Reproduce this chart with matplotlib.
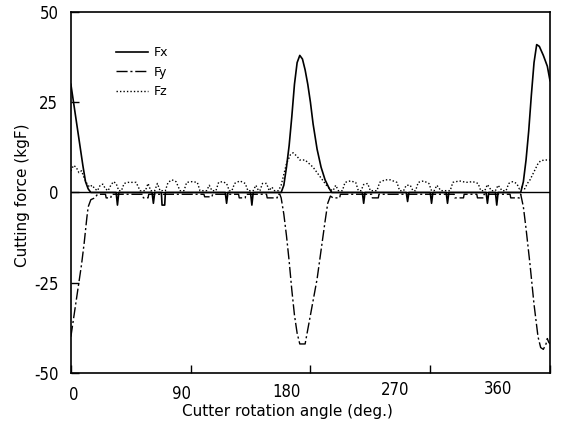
import matplotlib
matplotlib.use("Agg")
import matplotlib.pyplot as plt
from matplotlib import font_manager as fm
import matplotlib.transforms as mtransforms

# ---------------- data ----------------
fx_ang = [0, 3, 6, 9, 11, 13, 15, 20, 34, 35, 36, 45, 61, 62, 63, 68, 68.5, 70.5, 71, 90,
          116, 117, 118, 135, 136, 137, 158, 160, 162, 164, 166, 168, 170, 172, 174, 176,
          178, 180, 182, 185, 188, 191, 194, 196, 219, 220, 221, 252, 253, 254, 270, 271,
          272, 282, 283, 284, 312, 313, 314, 319, 320, 321, 338, 340, 342, 344, 346, 348,
          350, 352, 355, 358, 360]
fx_val = [30, 22.5, 15, 7.5, 3, 1, 0, 0, 0, -3.5, 0, 0, 0, -3, 0, 0, -3.5, -3.5, 0, 0,
          0, -3, 0, 0, -3.5, 0, 0, 2, 7, 13, 21, 30, 36, 38, 37, 34,
          30, 25, 19, 12, 7, 3.5, 1.2, 0, 0, -3, 0, 0, -2.5, 0, 0, -3,
          0, 0, -3, 0, 0, -3, 0, 0, -3.5, 0, 0, 3, 9, 17, 27, 36,
          41, 40.5, 38, 35, 31]

fy_ang = [0, 2, 4, 6, 8, 10, 12, 13, 15, 18, 20, 26, 26.5, 30, 30.5, 54, 54.5, 58, 58.5,
          100, 100.5, 106, 106.5, 126, 126.5, 131, 131.5, 147, 147.5, 155, 155.5, 157, 158,
          160, 162, 164, 166, 168, 170, 172, 176, 178, 180, 182, 185, 188, 191, 193, 195,
          197, 202, 202.5, 226, 226.5, 231, 231.5, 288, 288.5, 295, 295.5, 305, 305.5, 310,
          310.5, 330, 330.5, 337, 338, 340, 342, 345, 348, 351, 353, 355, 357, 358, 359, 360]
fy_val = [-40, -35, -30, -25, -20, -14, -7, -4, -2, -1.5, -0.5, -0.5, -1.5, -1.5, -0.5, -0.5, -1.5, -1.5, -0.5,
          -0.5, -1.2, -1.2, -0.5, -0.5, -1.5, -1.5, -0.5, -0.5, -1.5, -1.5, -0.5, -0.5, -1.5,
          -6, -12, -19, -27, -34, -39, -42, -42, -38, -34, -30, -24, -16, -8, -3, -1,
          -1.5, -1.5, -0.5, -0.5, -1.5, -1.5, -0.5, -0.5, -1.5, -1.5, -0.5, -0.5, -1.5, -1.5,
          -0.5, -0.5, -1.5, -1.5, -0.5, -4, -10, -20, -31, -40, -43, -43.5, -42, -40.5, -41.5, -42]

fz_ang = [0, 2, 4, 6, 8, 10, 12, 14, 16, 18, 20, 22, 24, 26, 28, 30, 32, 34, 36, 38, 40, 43, 49, 52,
          56, 58, 60, 63, 65, 67, 71, 73, 76, 79, 82, 85, 87, 91, 95, 97, 102, 104, 106, 109,
          111, 114, 117, 119, 121, 123, 127, 131, 133, 137, 139, 141, 142, 144, 147, 149, 151,
          153, 156, 158, 160, 162, 165, 167, 170, 172, 176, 179, 182, 185, 189, 192, 195, 197,
          199, 201, 204, 206, 210, 214, 216, 218, 220, 223, 225, 230, 232, 236, 240, 245, 247,
          250, 252, 255, 257, 259, 261, 265, 269, 271, 273, 275, 278, 285, 287, 292, 297, 302,
          306, 308, 311, 313, 316, 319, 321, 324, 327, 329, 332, 335, 337, 339, 341, 343, 345,
          347, 349, 351, 353, 356, 360]
fz_val = [6, 7.5, 7, 5.5, 6, 4, 2.5, 1.5, 2, 1, 0.5, 2, 2.3, 1, 0.5, 2, 3, 2.5, 0.5, 0.5, 2.5, 2.8, 2.8, 0.5,
          0.5, 2.5, 0.5, 0.5, 2.5, 0.5, 0.5, 2.8, 3.5, 3, 0.5, 0.5, 2.8, 3, 2.8, 0.5, 0.5, 2, 0.5, 0.5,
          2.8, 3, 2.5, 0.5, 0.5, 2.5, 3.2, 2.5, 0.5, 0.5, 2, 0.5, 0.5, 2.5, 2.5, 0.5, 1.5,
          0.5, 0.5, 2, 5, 8, 10.5, 11, 10, 9, 9, 8, 7, 5.5, 3.5, 2, 0.8, 0.5,
          2, 0.5, 0.5, 2.8, 3.2, 2.8, 0.5, 0.5, 2.2, 2.5, 0.5, 0.5, 2.8, 3.5, 3.5, 2.8, 0.5,
          0.5, 2, 2, 0.5, 0.5, 2.8, 3.2, 2.5, 0.5, 0.5, 2, 0.5, 0.5, 2.8, 3.2, 2.8, 3,
          2.5, 0.5, 0.5, 2.2, 0.5, 0.5, 2, 0.5, 0.5, 2.5, 3, 2.5, 1, 1.5, 1, 2.5, 3.5,
          5, 6.5, 8, 8.8, 9, 9]

x_ticks = [0, 90, 180, 270, 360]
x_tick_labels = ["0", "90", "180", "270", "360"]
x_label_pos = [2, 83, 162, 244, 321]
x_label_y = [-0.061, -0.058, -0.054, -0.049, -0.044]
y_ticks = [-50, -25, 0, 25, 50]
y_tick_labels = ["-50", "-25", "0", "25", "50"]

# ---------------- fonts ----------------
plt.rcParams['font.family'] = ['DejaVu Sans']
tick_kw = dict(fontfamily='DejaVu Sans', fontstretch='condensed', fontsize=12)

fig = plt.figure(figsize=(5.67, 4.33), dpi=100)
ax = fig.add_axes([0.125, 0.139, 0.845, 0.833])

lx, = ax.plot(fx_ang, fx_val, color='black', lw=1.2, linestyle='-', label='Fx')
ly, = ax.plot(fy_ang, fy_val, color='black', lw=1.0, linestyle=(0, (8, 2, 1.5, 2)), label='Fy')
lz, = ax.plot(fz_ang, fz_val, color='black', lw=1.0, linestyle=(0, (1, 1.5)), label='Fz')
ax.axhline(0, color='black', lw=1.0)

ax.set_xlim(0, 360)
ax.set_ylim(-50, 50)
ax.set_xticks(x_ticks)
ax.set_xticklabels([])
ax.set_yticks(y_ticks)
ax.set_yticklabels(y_tick_labels, **tick_kw)
ax.tick_params(axis='both', direction='in', length=6, width=1)
ax.tick_params(axis='y', pad=9)

trans = mtransforms.blended_transform_factory(ax.transData, ax.transAxes)
for pos, yy, lab in zip(x_label_pos, x_label_y, x_tick_labels):
    ax.text(pos, yy, lab, transform=trans, ha='center', va='center', **tick_kw)

for sp in ax.spines.values():
    sp.set_linewidth(1.2)

ax.text(0.452, -0.108, "Cutter rotation angle (deg.)", transform=ax.transAxes,
        ha='center', va='center', fontsize=11)
fig.text(0.039, 0.55, "Cutting force (kgF)", rotation=90, ha='center', va='center', fontsize=11)

ax.legend(handles=[lx, ly, lz], loc='upper left', bbox_to_anchor=(0.094, 0.905),
          frameon=False, fontsize=9, handlelength=2.6, handletextpad=0.4,
          labelspacing=0.5, borderpad=0, borderaxespad=0)

fig.savefig("out.png", dpi=100)
